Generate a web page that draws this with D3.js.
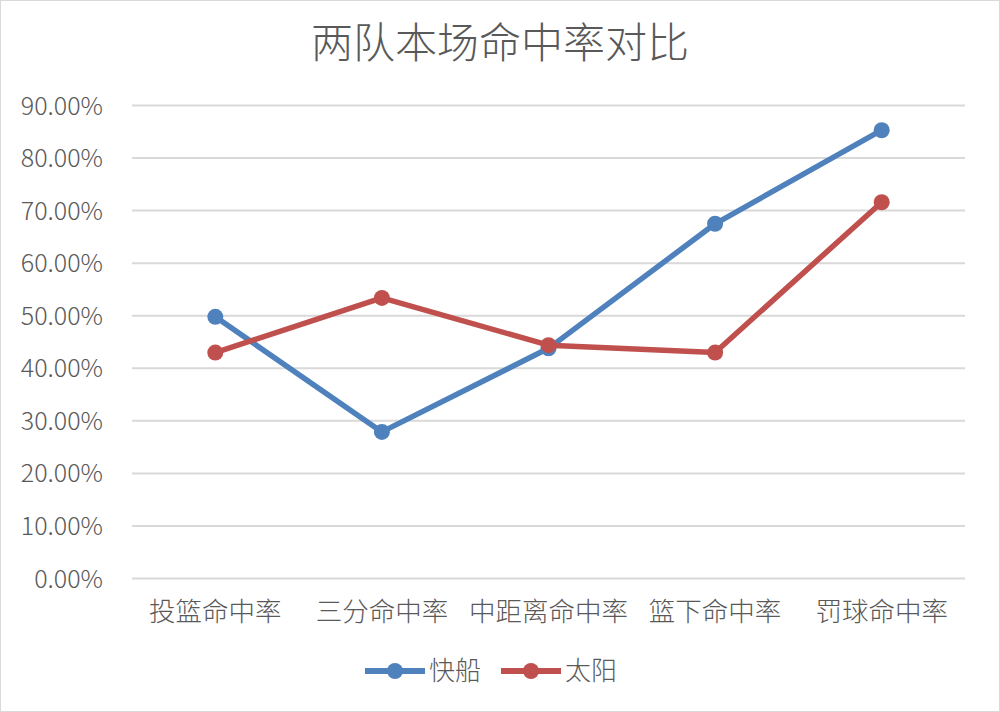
<!DOCTYPE html>
<html lang="zh">
<head>
<meta charset="utf-8">
<title>两队本场命中率对比</title>
<script src="https://d3js.org/d3.v7.min.js"></script>
<style>
  body { margin: 0; background: #fff; }
  svg text { font-family: "Noto Sans CJK SC", "Noto Sans", sans-serif; font-weight: 300; fill: #595959; }
</style>
</head>
<body>
<svg id="chart" width="1000" height="712"></svg>
<script>
// categories and values
var categories = ["投篮命中率", "三分命中率", "中距离命中率", "篮下命中率", "罚球命中率"];
var seriesNames = ["快船", "太阳"];
var clippers = [0.497, 0.278, 0.437, 0.674, 0.852];
var suns = [0.429, 0.533, 0.443, 0.429, 0.715];
var yTicks = [0, 0.1, 0.2, 0.3, 0.4, 0.5, 0.6, 0.7, 0.8, 0.9];
var colors = ["#4f81bd", "#c0504d"];

var W = 1000, H = 712;
var margin = { top: 105, right: 35, bottom: 134, left: 132 };
var width = W - margin.left - margin.right,
    height = H - margin.top - margin.bottom;

var svg = d3.select("#chart");

// outer border
svg.append("rect")
  .attr("x", 0.5).attr("y", 0.5)
  .attr("width", W - 1).attr("height", H - 1)
  .attr("fill", "none").attr("stroke", "#d9d9d9");

// title
svg.append("text")
  .attr("x", W / 2).attr("y", 58)
  .attr("text-anchor", "middle")
  .style("font-size", "42px")
  .text("两队本场命中率对比");

var g = svg.append("g")
  .attr("transform", "translate(" + margin.left + "," + margin.top + ")");

var x = d3.scaleBand().domain(categories).range([0, width]);
var y = d3.scaleLinear().domain([0, 0.9]).range([height, 0]);

// y axis with gridlines
var yAxis = g.append("g")
  .call(d3.axisLeft(y).tickValues(yTicks).tickSize(-width)
    .tickFormat(function (d) { return (d * 100).toFixed(2) + "%"; }));
yAxis.select(".domain").remove();
yAxis.selectAll(".tick line").attr("stroke", "#d9d9d9").attr("stroke-width", 2);
yAxis.selectAll(".tick text")
  .attr("x", -29)
  .attr("dy", "0.36em")
  .style("font-size", "25px");

// x axis labels
var xAxis = g.append("g")
  .attr("transform", "translate(0," + height + ")")
  .call(d3.axisBottom(x).tickSize(0));
xAxis.select(".domain").remove();
xAxis.selectAll(".tick text")
  .attr("dy", 0)
  .attr("y", 43)
  .style("font-size", "26.5px");

var series = [clippers, suns];
var line = d3.line()
  .x(function (d, i) { return x(categories[i]) + x.bandwidth() / 2; })
  .y(function (d) { return y(d); });

series.forEach(function (vals, s) {
  g.append("path")
    .datum(vals)
    .attr("fill", "none")
    .attr("stroke", colors[s])
    .attr("stroke-width", 5.5)
    .attr("stroke-linejoin", "round")
    .attr("d", line);
  g.selectAll(".pt" + s)
    .data(vals)
    .enter().append("circle")
    .attr("cx", function (d, i) { return x(categories[i]) + x.bandwidth() / 2; })
    .attr("cy", function (d) { return y(d); })
    .attr("r", 8)
    .attr("fill", colors[s]);
});

// legend
var legend = svg.append("g").attr("transform", "translate(365,671)");
var legX = [0, 136];
seriesNames.forEach(function (name, i) {
  var lg = legend.append("g").attr("transform", "translate(" + legX[i] + ",0)");
  lg.append("line")
    .attr("x1", 0).attr("x2", 60)
    .attr("stroke", colors[i]).attr("stroke-width", 6);
  lg.append("circle").attr("cx", 30).attr("r", 8).attr("fill", colors[i]);
  lg.append("text")
    .attr("x", 64).attr("y", 9)
    .style("font-size", "26px")
    .text(name);
});
</script>
</body>
</html>
